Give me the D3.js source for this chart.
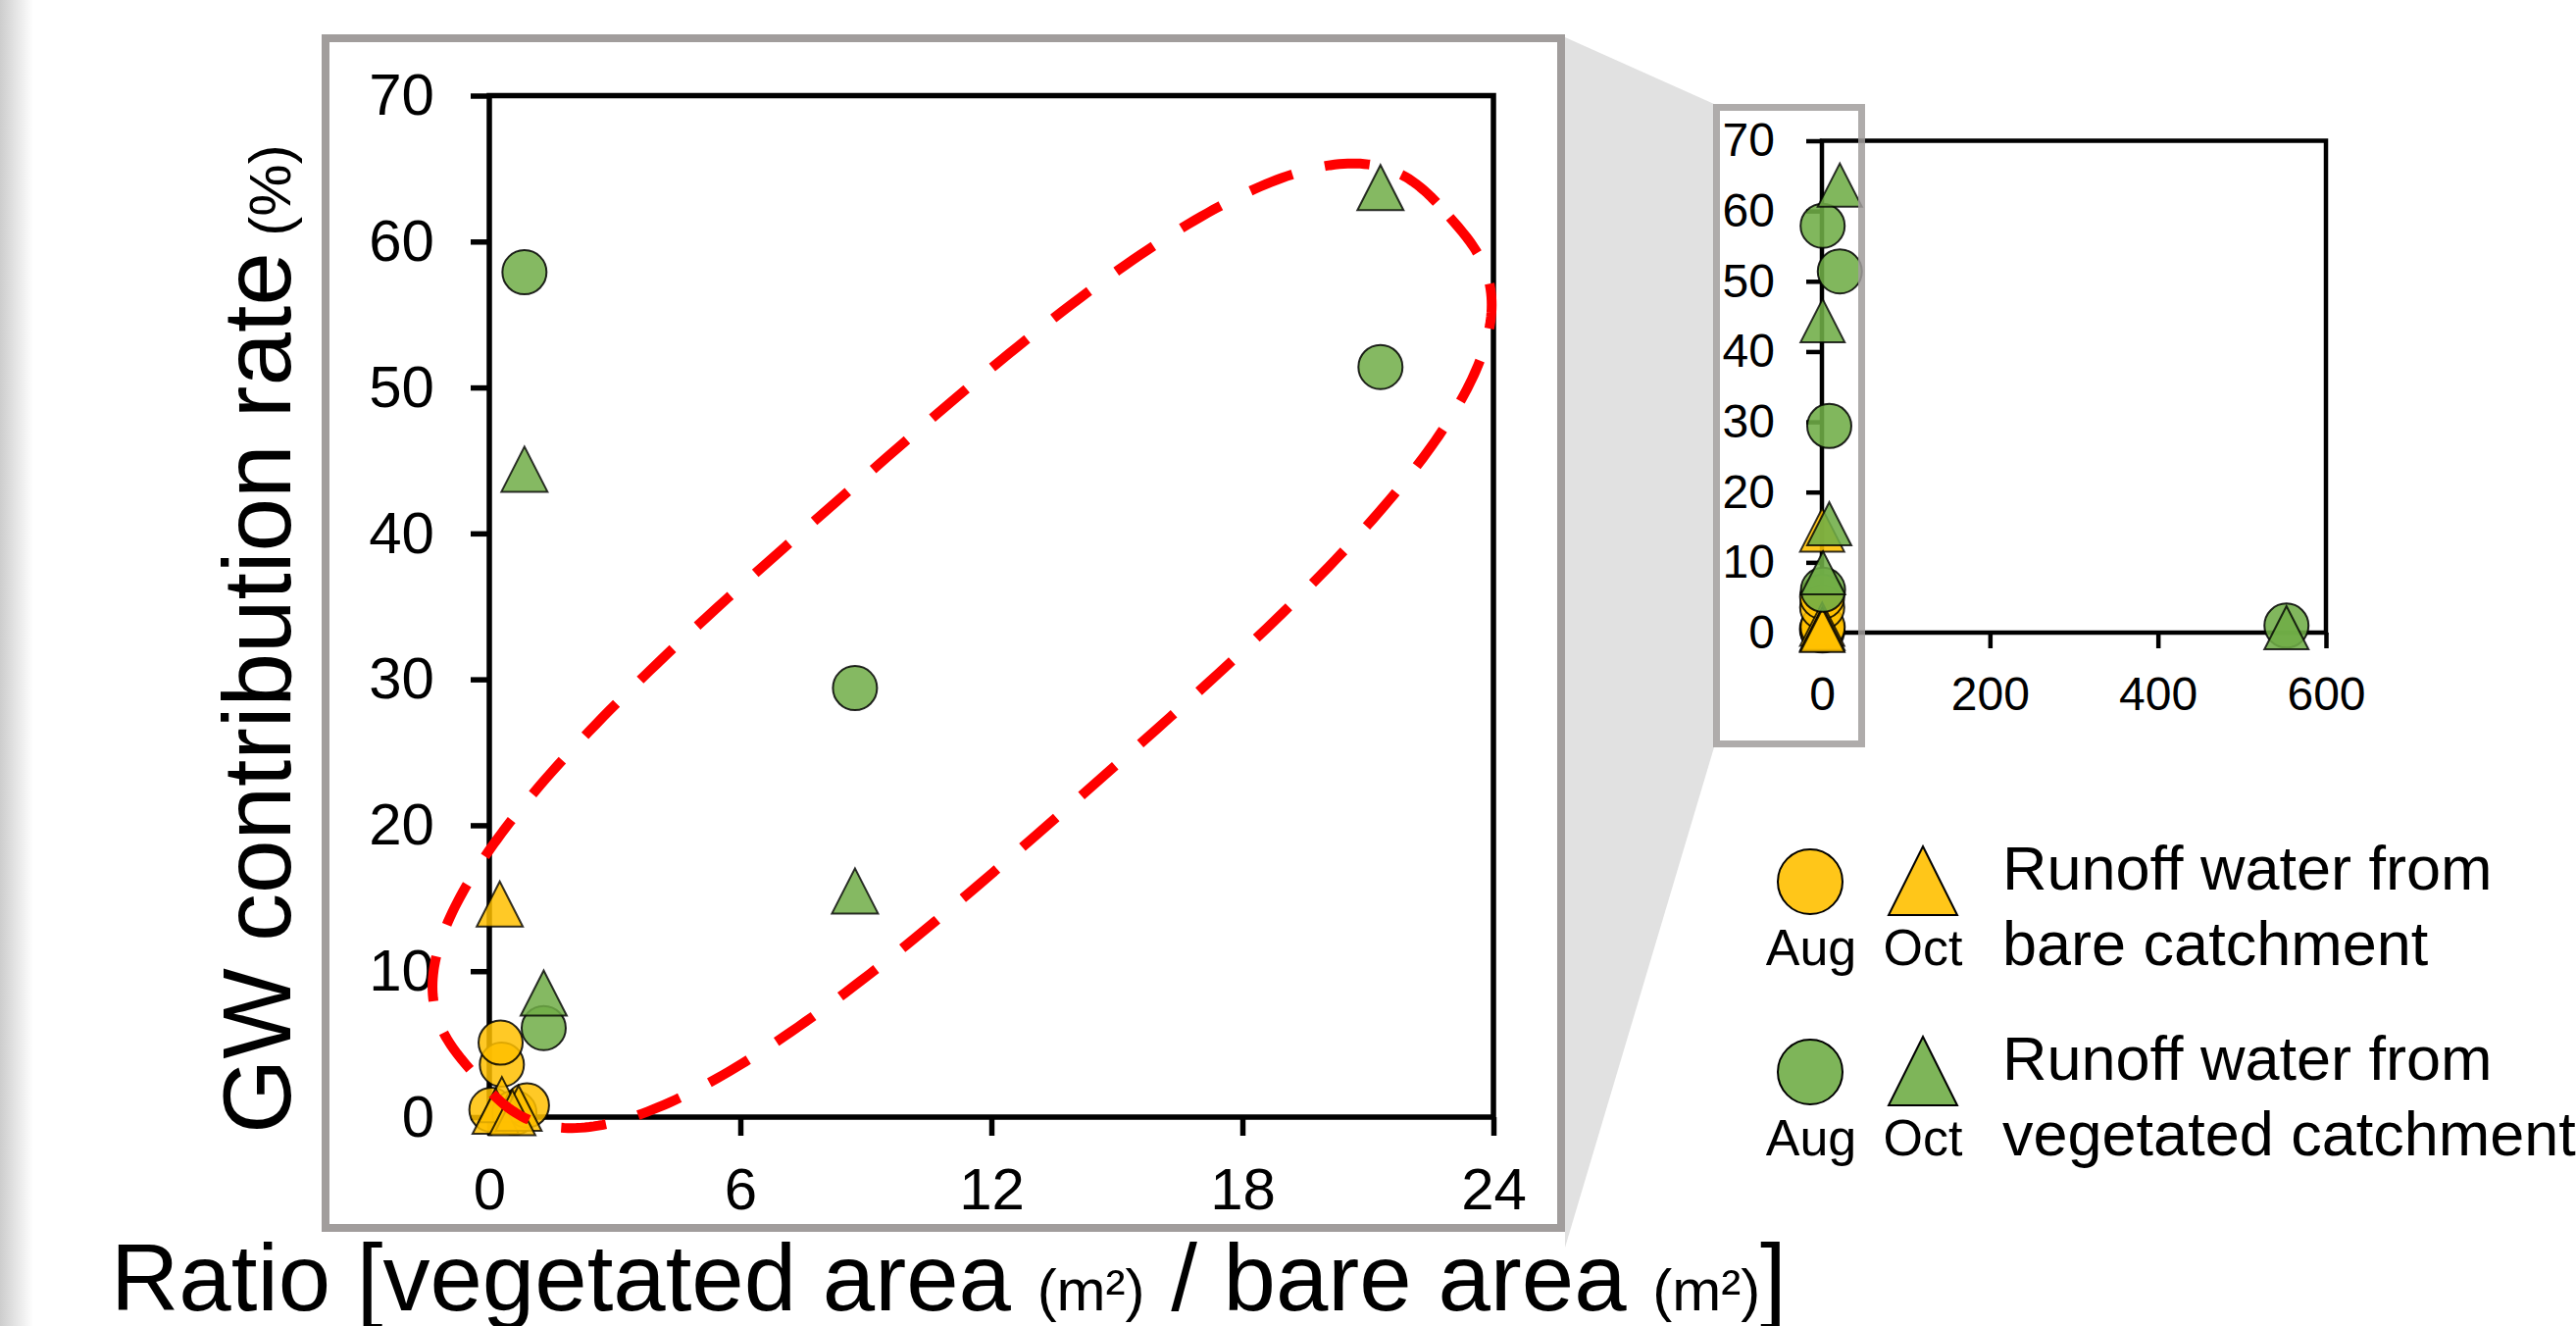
<!DOCTYPE html>
<html>
<head>
<meta charset="utf-8">
<script src="https://cdn.jsdelivr.net/npm/d3@7"></script>
<style>
  body { margin: 0; background: #fff; }
  svg { display: block; font-family: "Liberation Sans", Arial, sans-serif; }
  text { white-space: pre; }
</style>
</head>
<body>
<svg width="2627" height="1352"></svg>
<script>
// values: [ratio, GW contribution %]
const bareAug = [[0.05, 0.5], [0.6, 0.3], [0.9, 0.8], [0.3, 3.6], [0.27, 5.1]];
const bareOct = [[0.25, 14.6], [0.3, 1.2], [0.15, 0.4], [0.7, 0.6], [0.55, 0.3]];
const vegAug = [[0.84, 57.9], [21.3, 51.4], [8.74, 29.4], [1.3, 6.1], [553, 1.0]];
const vegOct = [[0.84, 44.4], [21.3, 63.7], [8.74, 15.5], [1.3, 8.5], [553, 0.7]];

const mainXTicks = [0, 6, 12, 18, 24];
const insetXTicks = [0, 200, 400, 600];
const yTicks = [0, 10, 20, 30, 40, 50, 60, 70];
const monthLabels = ["Aug", "Oct"];
const legendText = [["Runoff water from", "bare catchment"], ["Runoff water from", "vegetated catchment"]];

const yellow = "#ffc000";
const green = "#70ad47";
const frameGray = "#a19d9c";

const series = [
  { data: bareAug, shape: "circle", color: yellow },
  { data: bareOct, shape: "triangle", color: yellow },
  { data: vegAug, shape: "circle", color: green },
  { data: vegOct, shape: "triangle", color: green }
];

const svg = d3.select("svg");

// triangle centred on its bounding box, like the spreadsheet marker
const triPath = (w, h) => `M0,${-h / 2}L${w / 2},${h / 2}L${-w / 2},${h / 2}Z`;

// background bits: left shading and the zoom connector
const defs = svg.append("defs");
const grad = defs.append("linearGradient").attr("id", "leftShade");
grad.append("stop").attr("offset", "0%").attr("stop-color", "#cdcdcd");
grad.append("stop").attr("offset", "100%").attr("stop-color", "#ffffff");
svg.append("rect").attr("x", 0).attr("y", 0).attr("width", 34).attr("height", 1352).attr("fill", "url(#leftShade)");

svg.append("polygon")
  .attr("points", "1596,38 1748,106 1748,762 1596,1272")
  .attr("fill", "#e1e1e1");

// ---------- main plot ----------
const xMain = d3.scaleLinear().domain([0, 24]).range([499, 1523]);
const yMain = d3.scaleLinear().domain([0, 70]).range([1139, 97.5]);

svg.append("rect")
  .attr("x", 332).attr("y", 39).attr("width", 1260).attr("height", 1213)
  .attr("fill", "#fff").attr("stroke", frameGray).attr("stroke-width", 8);

const drawAxes = (g, x, y, xTicks, opt) => {
  const xa = g.append("g")
    .attr("transform", `translate(0,${y(0)})`)
    .call(d3.axisBottom(x).tickValues(xTicks).tickSize(opt.tick).tickPadding(opt.xPad).tickFormat(d3.format("d")));
  const ya = g.append("g")
    .attr("transform", `translate(${x.range()[0]},0)`)
    .call(d3.axisLeft(y).tickValues(yTicks).tickSize(opt.tick).tickPadding(opt.yPad).tickFormat(d3.format("d")));
  [xa, ya].forEach((a) => {
    a.select(".domain").remove();
    a.selectAll(".tick line").attr("stroke", "#000").attr("stroke-width", opt.sw);
    a.selectAll(".tick text").attr("fill", "#000").attr("font-size", opt.font)
      .attr("font-family", "Liberation Sans, Arial, sans-serif");
  });
  g.append("rect")
    .attr("x", x.range()[0]).attr("y", y(70))
    .attr("width", x.range()[1] - x.range()[0]).attr("height", y(0) - y(70))
    .attr("fill", "none").attr("stroke", "#000").attr("stroke-width", opt.sw);
};

const drawPoints = (g, x, y, opt) => {
  series.forEach((s) => {
    const pts = s.data.filter((d) => d[0] <= x.domain()[1]);
    const sel = g.append("g").selectAll("path").data(pts).enter();
    if (s.shape === "circle") {
      sel.append("circle")
        .attr("cx", (d) => x(d[0])).attr("cy", (d) => y(d[1])).attr("r", opt.r)
        .attr("fill", s.color).attr("fill-opacity", opt.op)
        .attr("stroke", "#000").attr("stroke-opacity", 0.85).attr("stroke-width", 2);
    } else {
      sel.append("path")
        .attr("d", triPath(opt.tw, opt.th))
        .attr("transform", (d) => `translate(${x(d[0])},${y(d[1])})`)
        .attr("fill", s.color).attr("fill-opacity", opt.op)
        .attr("stroke", "#000").attr("stroke-opacity", 0.8).attr("stroke-width", 2);
    }
  });
};

const mainG = svg.append("g");
drawAxes(mainG, xMain, yMain, mainXTicks, { tick: 19, xPad: 32, yPad: 37, sw: 5.5, font: 60 });
drawPoints(mainG, xMain, yMain, { r: 22.5, tw: 47, th: 46, op: 0.85 });

// red dashed loop around the vegetated points (a squarish ellipse, drawn by hand in the original)
const loopCenter = [11.3, 32.3];
const loop = { a: 662, b: 195, n: 3, angle: 41.3 };
const loopPts = d3.range(0, 360, 1).map((deg) => {
  const t = (deg * Math.PI) / 180;
  const c = Math.cos(t), s = Math.sin(t);
  return [
    loop.a * Math.sign(c) * Math.pow(Math.abs(c), 2 / loop.n),
    loop.b * Math.sign(s) * Math.pow(Math.abs(s), 2 / loop.n)
  ];
});
mainG.append("path")
  .attr("d", d3.line().curve(d3.curveLinearClosed)(loopPts))
  .attr("transform", `translate(${xMain(loopCenter[0])},${yMain(loopCenter[1])}) rotate(${-loop.angle})`)
  .attr("fill", "none").attr("stroke", "#ff0000").attr("stroke-width", 10)
  .attr("stroke-dasharray", "46,34");

// axis titles
svg.append("text")
  .attr("transform", "translate(296,1156) rotate(-90)")
  .attr("font-size", 98).attr("fill", "#000")
  .text("GW contribution rate")
  .append("tspan").attr("font-size", 60).text(" (%)");

const xt = svg.append("text").attr("x", 113).attr("y", 1336).attr("font-size", 96).attr("fill", "#000");
xt.append("tspan").text("Ratio [vegetated area ");
xt.append("tspan").attr("font-size", 60).text("(m²)");
xt.append("tspan").text(" / bare area ");
xt.append("tspan").attr("font-size", 60).text("(m²)");
xt.append("tspan").text("]");

// ---------- inset ----------
const xIn = d3.scaleLinear().domain([0, 600]).range([1858, 2372]);
const yIn = d3.scaleLinear().domain([0, 70]).range([645, 143.5]);
const inG = svg.append("g");
drawAxes(inG, xIn, yIn, insetXTicks, { tick: 16, xPad: 29, yPad: 32, sw: 4.5, font: 48 });
drawPoints(inG, xIn, yIn, { r: 22.5, tw: 45, th: 44, op: 0.88 });

svg.append("rect")
  .attr("x", 1750.5).attr("y", 109.5).attr("width", 148).attr("height", 649)
  .attr("fill", "none").attr("stroke", frameGray).attr("stroke-width", 7).attr("stroke-opacity", 0.85);

// ---------- legend ----------
const legendColors = [yellow, green];
const legend = svg.append("g");
legendColors.forEach((c, i) => {
  const row = legend.append("g").attr("transform", `translate(0,${i * 194})`);
  row.append("circle").attr("cx", 1846).attr("cy", 899).attr("r", 33)
    .attr("fill", c).attr("fill-opacity", 0.9).attr("stroke", "#000").attr("stroke-width", 2);
  row.append("path").attr("d", triPath(70, 70)).attr("transform", "translate(1961,898)")
    .attr("fill", c).attr("fill-opacity", 0.9).attr("stroke", "#000").attr("stroke-width", 2);
  monthLabels.forEach((m, j) => {
    row.append("text").attr("x", j === 0 ? 1847 : 1961).attr("y", 984)
      .attr("text-anchor", "middle").attr("font-size", 52).attr("fill", "#000").text(m);
  });
  legendText[i].forEach((t, j) => {
    row.append("text").attr("x", 2042).attr("y", 907 + j * 77)
      .attr("font-size", 63).attr("fill", "#000").text(t);
  });
});
</script>
</body>
</html>
